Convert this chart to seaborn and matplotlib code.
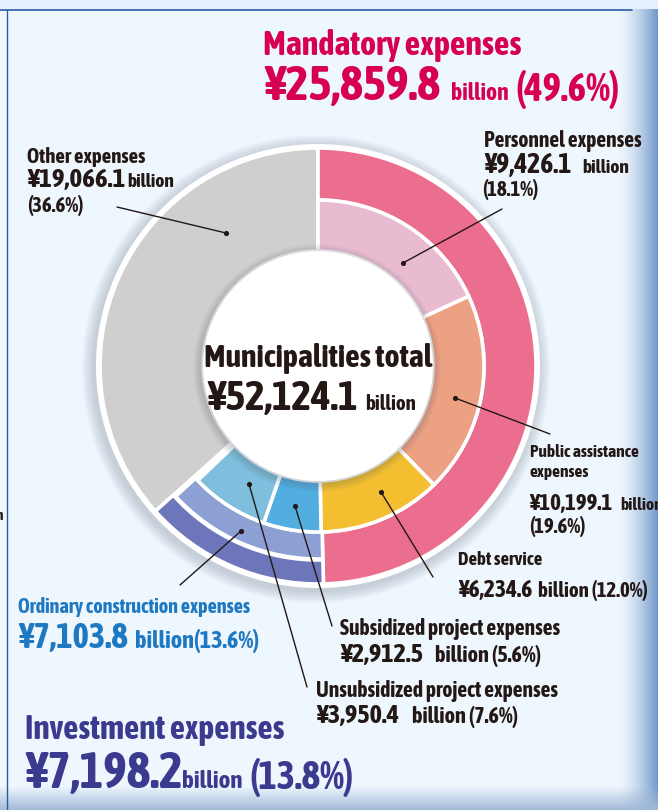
import numpy as np
import matplotlib
matplotlib.use("Agg")
import matplotlib.pyplot as plt
import seaborn as sns

# ---- data ----
total = 52124.1

groups = ["Mandatory expenses", "Investment expenses", "Other expenses"]
group_amounts = [25859.8, 7198.2, 19066.1]
group_shares = [49.6, 13.8, 36.6]

ordinary_name = "Ordinary construction expenses"
ordinary_amount = 7103.8
ordinary_share = 13.6

items = ["Personnel expenses", "Public assistance expenses", "Debt service",
         "Subsidized project expenses", "Unsubsidized project expenses"]
item_amounts = [9426.1, 10199.1, 6234.6, 2912.5, 3950.4]
item_shares = [18.1, 19.6, 12.0, 5.6, 7.6]

group_colors = ["#EC6E8E", "#6D76BA", "#CFCFCF"]
ordinary_color = "#8CA0D4"
item_colors = ["#E8BBD1", "#ECA183", "#F3BF31", "#52AEE1", "#7FBFDD"]

sns.set_theme(style="white")
plt.rcParams["font.family"] = ["Asap Condensed", "DejaVu Sans"]
plt.rcParams["font.weight"] = "bold"

W, H = 658, 810
cx, cy = 318, 366
r_out, r_mid, r_in = 218, 166, 115

fig = plt.figure(figsize=(W / 100, H / 100), dpi=100)
ax = fig.add_axes([0, 0, 1, 1])

# background
bg = np.ones((H, W, 3)) * np.array([238, 246, 254]) / 255
xs = np.arange(W)
right = np.clip((xs - 618) / 40, 0, 1) ** 1.5
edge = np.array([110, 150, 200]) / 255
bg = bg * (1 - right[None, :, None]) + edge * right[None, :, None]
ys = np.arange(H)
bottom = np.clip((ys - 786) / 24, 0, 1)
bedge = np.array([160, 185, 215]) / 255
bg = bg * (1 - bottom[:, None, None]) + bedge * bottom[:, None, None]
bg[:9, :, :] = np.array([230, 240, 252]) / 255
ax.imshow(bg, extent=(0, W, H, 0), zorder=0)
ax.plot([0, 632], [9.5, 9.5], color="#2A5AA5", lw=1.2, zorder=1)
ax.plot([6.5, 6.5], [10, H], color="#2A5AA5", lw=1.0, zorder=1)

# soft shadow and white rim
for k in range(12):
    ax.add_patch(plt.Circle((cx - 2, cy + 3), r_out + 16 - k, color="#606878",
                            alpha=0.025, lw=0, zorder=2))
ax.add_patch(plt.Circle((cx, cy), r_out + 4, color="white", lw=0, zorder=3))


def ring(values, colors, radius, width, z):
    wedges, _ = ax.pie(values, colors=[c if c != "none" else "white" for c in colors],
                       startangle=-90, counterclock=True, radius=radius,
                       center=(cx, cy), frame=True,
                       wedgeprops=dict(width=width, edgecolor="white", linewidth=2.6))
    for w, c in zip(wedges, colors):
        w.set_zorder(z)
        if c == "none":
            w.set_visible(False)
    return wedges


# other expenses: full thickness
ring(group_shares, ["none", "none", group_colors[2]], r_out, r_out - r_in, 4)
# mandatory outer band
ring(group_shares, [group_colors[0], "none", "none"], r_out, r_out - r_mid, 4)
# investment outer thin band
ring(group_shares, ["none", group_colors[1], "none"], r_out, 24, 4)
# ordinary construction band
ord_vals = [group_shares[0], ordinary_share, 100 - group_shares[0] - ordinary_share]
ring(ord_vals, ["none", ordinary_color, "none"], r_out - 25, r_out - 25 - r_mid, 4)
# inner breakdown
inner_vals = item_shares + [100 - sum(item_shares)]
ring(inner_vals, item_colors + ["none"], r_mid, r_mid - r_in, 4)

# inner shadow + white hole
for k in range(8):
    ax.add_patch(plt.Circle((cx - 1, cy + 2), r_in + 9 - k, color="#505868",
                            alpha=0.03, lw=0, zorder=5))
ax.add_patch(plt.Circle((cx, cy), r_in, color="white", lw=0, zorder=6))

ax.set_xlim(0, W)
ax.set_ylim(H, 0)
ax.set_aspect("equal")
ax.axis("off")

dark = "#231815"
red = "#D7004F"
blue = "#1E78C2"
navy = "#3C3A8F"


def put(x, y, s, size, color=dark, ha="left"):
    ax.text(x, y, s, fontsize=size, color=color, ha=ha, va="baseline",
            fontweight="bold", zorder=10)


def yen(v):
    return f"¥{v:,.1f}"


def lead(dot, end):
    ax.plot([dot[0], end[0]], [dot[1], end[1]], color=dark, lw=1.0, zorder=8)
    ax.scatter([dot[0]], [dot[1]], s=14, color=dark, zorder=9, lw=0)


# center
put(cx, 367, "Municipalities total", 23, ha="center")
put(207, 410, yen(total), 30)
put(365, 410, "billion", 15)

# mandatory
put(263, 55, groups[0], 24.5, red)
put(264, 100, yen(group_amounts[0]), 35, red)
put(451, 100, "billion", 17, red)
put(515, 101, f"({group_shares[0]}%)", 28, red)

# personnel
put(484, 147, items[0], 15.5)
put(484, 173, yen(item_amounts[0]), 20)
put(582, 173, "billion", 14)
put(482, 196, f"({item_shares[0]}%)", 15)
lead((403, 263), (502, 209))

# other
put(27, 163, groups[2], 15)
put(27, 187, yen(group_amounts[2]), 19.5)
put(127, 187, "billion", 14)
put(27, 212, f"({group_shares[2]}%)", 15)
lead((226, 233), (117, 207))

# public assistance
put(530, 457, "Public assistance", 12.5)
put(530, 477, "expenses", 12.5)
put(529, 510, yen(item_amounts[1]), 16.5)
put(620, 510, "billion", 12.5)
put(529, 533, f"({item_shares[1]}%)", 15)
lead((455, 398), (550, 434))

# debt service
put(458, 565, items[2], 13.5)
put(458, 597, yen(item_amounts[2]), 17)
put(538, 597, f"billion ({item_shares[2]}%)", 15)
lead((381, 492), (433, 577))

# subsidized / unsubsidized
put(340, 635, items[3], 15.5)
put(340, 662, yen(item_amounts[3]), 19)
put(435, 662, f"billion ({item_shares[3]}%)", 16)
lead((295, 506), (332, 626))
put(316, 697, items[4], 15.5)
put(316, 723, yen(item_amounts[4]), 19)
put(412, 723, f"billion ({item_shares[4]}%)", 16)
lead((249, 484), (307, 687))

# ordinary construction
put(18, 613, ordinary_name, 14.5, blue)
put(18, 648, yen(ordinary_amount), 25, blue)
put(135, 648, f"billion({ordinary_share}%)", 17.5, blue)
lead((241, 531), (180, 585))

# investment
put(25, 739, groups[1], 24, navy)
put(25, 788, yen(group_amounts[1]), 36, navy)
put(182, 788, "billion", 18, navy)
put(249, 789, f"({group_shares[1]}%)", 28, navy)

# clipped text at left edge
put(-4, 520, "n", 11)

fig.savefig("out.png", dpi=100)
